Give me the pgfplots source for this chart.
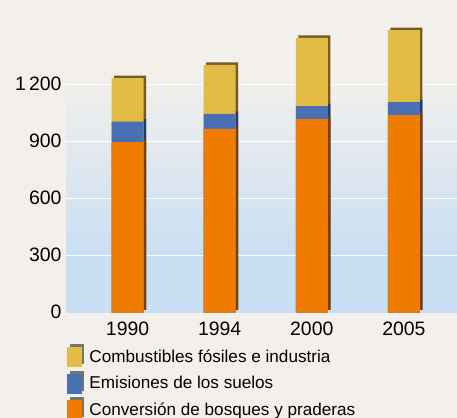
\documentclass[border=0pt]{standalone}
\usepackage{fontspec}
\setmainfont{Liberation Sans}
\usepackage{pgfplots}
\pgfplotsset{compat=1.18}
\usepackage{pgfplotstable}
\definecolor{pagebg}{HTML}{F3F0EC}
\definecolor{bluebg}{HTML}{C9DFF3}
\definecolor{cyellow}{HTML}{E2BC45}
\definecolor{cblue}{HTML}{4A6FB5}
\definecolor{corange}{HTML}{EF7B00}
\definecolor{syellow}{HTML}{735D24}
\definecolor{sblue}{HTML}{253A6B}
\definecolor{sorange}{HTML}{7A3E06}
\definecolor{legshadow}{HTML}{6E786C}
\pgfdeclareverticalshading{plotbg}{100bp}{color(0bp)=(bluebg); color(34.1bp)=(bluebg); color(63bp)=(pagebg); color(100bp)=(pagebg)}
\pgfplotstableread{
x orange blue yellow
0 897 108 229
1 966 79 258
2 1018 69 358
3 1039 69 379
}\datatable
\begin{document}
\begin{tikzpicture}
\fill[pagebg] (0,0) rectangle (457bp,418bp);
\node[anchor=base, font=\fontsize{13}{13}\selectfont, inner sep=0pt] at (347bp,414bp) {2};
\begin{axis}[
  at={(66bp,105.5bp)}, anchor=south west,
  scale only axis, width=391bp, height=312.5bp,
  axis background/.style={shading=plotbg},
  xmin=-0.669, xmax=3.577, ymin=0, ymax=1645,
  axis line style={draw=none},
  major tick length=0pt,
  xtick={0,1,2,3}, xticklabels={1990,1994,2000,2005},
  ytick={300,600,900,1200}, yticklabels={300,600,900,1\,200},
  extra y ticks={0}, extra y tick labels={0},
  extra y tick style={grid=none},
  ymajorgrids, major grid style={white, line width=1.2bp},
  tick label style={font=\fontsize{19.5}{19.5}\selectfont},
  yticklabel style={xshift=-1bp, yshift=1bp},
  xticklabel style={yshift=-5.5bp},
  ybar, bar width=32bp,
  legend style={at={(0,0)}, anchor=north west, xshift=1bp, yshift=-31.5bp,
    draw=none, fill=none, inner sep=0pt, outer sep=0pt,
    font=\fontsize{17.2}{17.2}\selectfont, row sep=3.5bp,
    cells={anchor=west},
    /tikz/every odd column/.append style={column sep=3.5bp}},
  legend cell align=left,
]
% shadows
\addplot[forget plot, fill=syellow, draw=none, bar shift=2.5bp, yshift=2.5bp]
  table[x=x, y expr=\thisrow{orange}+\thisrow{blue}+\thisrow{yellow}] {\datatable};
\addplot[forget plot, fill=sblue, draw=none, bar shift=2.5bp, yshift=2.5bp]
  table[x=x, y expr=\thisrow{orange}+\thisrow{blue}] {\datatable};
\addplot[forget plot, fill=sorange, draw=none, bar shift=2.5bp, yshift=2.5bp]
  table[x=x, y=orange] {\datatable};
% bars
\addplot[fill=cyellow, draw=none, bar shift=0pt,
  legend image code/.code={\fill[legshadow] (2.5bp,-7bp) rectangle (17bp,13bp);
    \fill[cyellow] (0bp,-10bp) rectangle (14.5bp,10bp);}]
  table[x=x, y expr=\thisrow{orange}+\thisrow{blue}+\thisrow{yellow}] {\datatable};
\addlegendentry{Combustibles fósiles e industria}
\addplot[fill=cblue, draw=none, bar shift=0pt,
  legend image code/.code={\fill[legshadow] (2.5bp,-7bp) rectangle (17bp,13bp);
    \fill[cblue] (0bp,-10bp) rectangle (14.5bp,10bp);}]
  table[x=x, y expr=\thisrow{orange}+\thisrow{blue}] {\datatable};
\addlegendentry{Emisiones de los suelos}
\addplot[fill=corange, draw=none, bar shift=0pt,
  legend image code/.code={\fill[legshadow] (2.5bp,-7bp) rectangle (17bp,13bp);
    \fill[corange] (0bp,-10bp) rectangle (14.5bp,10bp);}]
  table[x=x, y=orange] {\datatable};
\addlegendentry{Conversión de bosques y praderas}
\end{axis}
\pgfresetboundingbox
\useasboundingbox (0,0) rectangle (457bp,418bp);
\end{tikzpicture}
\end{document}
